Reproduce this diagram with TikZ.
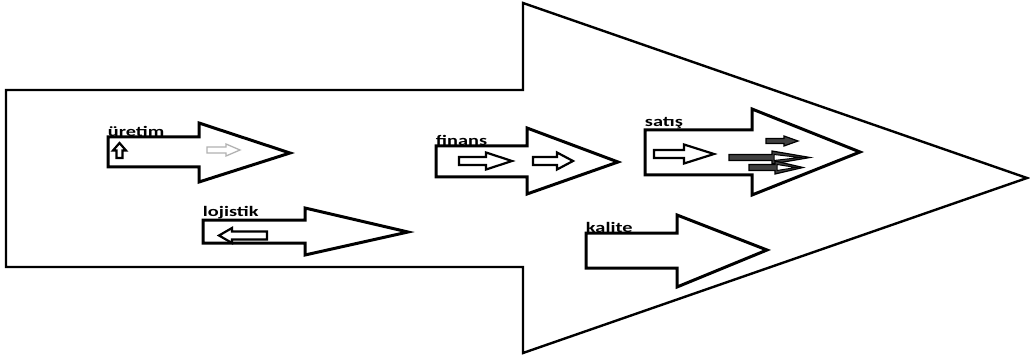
\documentclass[tikz,border=0pt]{standalone}
\usepackage{fontspec}
\setmainfont{Carlito}
\begin{document}
\begin{tikzpicture}[x=1pt,y=-1pt,
  big/.style={draw=black,line width=2.4pt,line join=miter,fill=white},
  blk/.style={draw=black,line width=3pt,line join=miter,fill=white},
  inner/.style={draw=black,line width=2.2pt,line join=miter,fill=white},
  lbl/.style={anchor=south west,inner sep=0.5pt,font=\bfseries\fontsize{14.5}{14.5}\selectfont,xscale=1.4}]
\useasboundingbox (0,0) rectangle (1030,358);
% big arrow
\draw[big] (6,90) -- (523,90) -- (523,3) -- (1027,178) -- (523,353) -- (523,267) -- (6,267) -- cycle;
% uretim
\draw[blk] (108,137) -- (199,137) -- (199,123) -- (290,153) -- (199,182) -- (199,167) -- (108,167) -- cycle;
\node[lbl] (l1) at (107,137) {üretim};
\draw[inner,line width=2.2pt] (116.5,158) -- (116.5,150.5) -- (113,150.5) -- (119.5,143) -- (126,150.5) -- (122.5,150.5) -- (122.5,158) -- cycle;
\draw[draw=gray!60,line width=1.3pt] (207,147) -- (226,147) -- (226,144) -- (240,150) -- (226,156) -- (226,153) -- (207,153) -- cycle;
% lojistik
\draw[blk] (203,220) -- (305,220) -- (305,208) -- (408,232) -- (305,255) -- (305,243) -- (203,243) -- cycle;
\node[lbl] (l2) at (202,220) {lojistik};
\draw[inner] (267,231.5) -- (232,231.5) -- (232,228) -- (219,235.5) -- (232,243) -- (232,239.5) -- (267,239.5) -- cycle;
% finans
\draw[blk] (436,146) -- (527,146) -- (527,128) -- (618,162) -- (527,194) -- (527,177) -- (436,177) -- cycle;
\node[lbl] (l3) at (435,146) {finans};
\draw[inner] (459,157) -- (486,157) -- (486,152.5) -- (512,161) -- (486,169.5) -- (486,165) -- (459,165) -- cycle;
\draw[inner] (533,157) -- (557,157) -- (557,152.5) -- (573,161) -- (557,169.5) -- (557,165) -- (533,165) -- cycle;
% satis
\draw[blk] (645,130) -- (752,130) -- (752,109) -- (860,152) -- (752,195) -- (752,175) -- (645,175) -- cycle;
\node[lbl] (l4) at (644,130) {satış};
\draw[inner] (654,150) -- (684,150) -- (684,144.5) -- (714,154) -- (684,163.5) -- (684,158) -- (654,158) -- cycle;
\draw[draw=black,fill=black!75,line width=1.2pt] (766,138.5) -- (784,138.5) -- (784,136) -- (798,141) -- (784,146) -- (784,143.5) -- (766,143.5) -- cycle;
\draw[draw=black,fill=black!75,line width=1.2pt] (729,154.5) -- (772,154.5) -- (772,151) -- (810,157.5) -- (772,164) -- (772,160.5) -- (729,160.5) -- cycle;
\draw[draw=black,fill=white,line width=1pt] (774,154.5) -- (800,157.5) -- (774,160.5) -- cycle;
\draw[draw=black,fill=black!75,line width=1.2pt] (749,164.5) -- (775,164.5) -- (775,161) -- (803,167.5) -- (775,174) -- (775,170.5) -- (749,170.5) -- cycle;
\draw[draw=black,fill=white,line width=1pt] (777,164.5) -- (796,167.5) -- (777,170.5) -- cycle;
% kalite
\draw[blk] (586,233) -- (677,233) -- (677,215) -- (767,250) -- (677,287) -- (677,268) -- (586,268) -- cycle;
\node[lbl] (l5) at (585,233) {kalite};
\end{tikzpicture}
\end{document}
